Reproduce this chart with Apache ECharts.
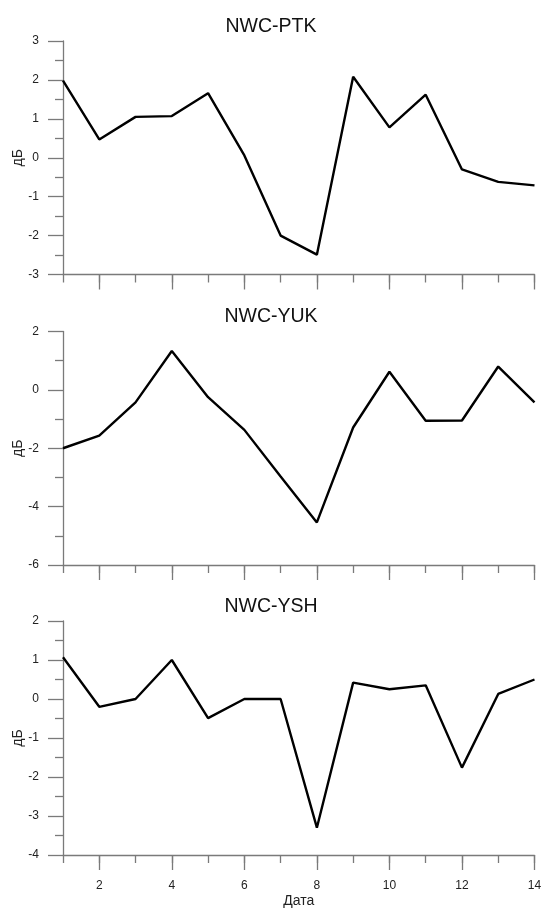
<!DOCTYPE html>
<html>
<head>
<meta charset="utf-8">
<script src="https://cdn.jsdelivr.net/npm/echarts@6/dist/echarts.min.js"></script>
<style>
html,body{margin:0;padding:0;background:#fff;}
#chart{width:542px;height:909px;}
</style>
</head>
<body>
<div id="chart"></div>
<script>
// ---- data ----
var titles = ['NWC-PTK', 'NWC-YUK', 'NWC-YSH'];
var dates = [1, 2, 3, 4, 5, 6, 7, 8, 9, 10, 11, 12, 13, 14];
var ptk = [1.98, 0.47, 1.05, 1.07, 1.66, 0.06, -2.0, -2.49, 2.08, 0.78, 1.62, -0.30, -0.62, -0.71];
var yuk = [-2.0, -1.57, -0.43, 1.33, -0.25, -1.37, -2.97, -4.54, -1.29, 0.62, -1.06, -1.05, 0.80, -0.43];
var ysh = [1.07, -0.20, 0.0, 1.0, -0.49, 0.0, 0.0, -3.30, 0.42, 0.25, 0.35, -1.76, 0.13, 0.50];
var xMajorTicks = [2, 4, 6, 8, 10, 12, 14];
var xTickLabels = [2, 4, 6, 8, 10, 12, 14];
var yMin = [-3, -6, -4];
var yMax = [3, 2, 2];
var yStep = [1, 2, 1];
var yName = 'дБ';
var xName = 'Дата';

// ---- layout ----
var FONT = 'Liberation Sans, Arial, sans-serif';
var AXIS = '#7a7a7a';
var TEXT = '#222';
var gridTops = [41, 331.5, 621];
var gridHeights = [233.5, 233.5, 234];
var seriesData = [ptk, yuk, ysh];

var option = {
  animation: false,
  backgroundColor: '#fff',
  title: [], grid: [], xAxis: [], yAxis: [], series: []
};

for (var i = 0; i < 3; i++) {
  option.title.push({
    text: titles[i], left: 'center', top: gridTops[i] - 29.5,
    textStyle: {fontFamily: FONT, fontSize: 19.5, fontWeight: 'normal', color: '#111'}
  });
  option.grid.push({left: 63, width: 471.5, top: gridTops[i], height: gridHeights[i],
    containLabel: false, outerBoundsMode: 'none'});
  var last = (i === 2);
  // minor (all integer) ticks + axis line
  option.xAxis.push({
    type: 'value', gridIndex: i, position: 'bottom', min: 1, max: 14, interval: 1,
    axisLine: {show: true, onZero: false, lineStyle: {color: AXIS, width: 1.3}},
    axisTick: {show: true, length: 8, lineStyle: {color: AXIS, width: 1.3}},
    axisLabel: {show: false},
    splitLine: {show: false},
    name: last ? xName : '', nameLocation: 'middle', nameGap: 39, nameMoveOverlap: false,
    nameTextStyle: {fontFamily: FONT, fontSize: 14, color: TEXT}
  });
  // major (even) ticks + labels
  option.xAxis.push({
    type: 'value', gridIndex: i, position: 'bottom', offset: 0, min: 1, max: 14, interval: 1,
    axisLine: {show: false, onZero: false},
    axisTick: {show: true, length: 15, customValues: xMajorTicks, lineStyle: {color: AXIS, width: 1.3}},
    axisLabel: {show: last, customValues: xTickLabels, margin: 25,
      fontFamily: FONT, fontSize: 12, color: TEXT},
    splitLine: {show: false}
  });
  option.yAxis.push({
    type: 'value', gridIndex: i, min: yMin[i], max: yMax[i], interval: yStep[i],
    axisLine: {show: true, onZero: false, lineStyle: {color: AXIS, width: 1.3}},
    axisTick: {show: true, length: 15, lineStyle: {color: AXIS, width: 1.3}},
    minorTick: {show: true, splitNumber: 2, length: 8, lineStyle: {color: AXIS, width: 1.3}},
    axisLabel: {margin: 24, fontFamily: FONT, fontSize: 12, color: TEXT},
    splitLine: {show: false},
    name: yName, nameLocation: 'middle', nameGap: 38, nameMoveOverlap: false,
    nameTextStyle: {fontFamily: FONT, fontSize: 14, color: TEXT}
  });
  option.series.push({
    type: 'line', xAxisIndex: 2 * i, yAxisIndex: i,
    data: dates.map(function (d, k) { return [d, seriesData[i][k]]; }),
    symbol: 'none',
    lineStyle: {color: '#000', width: 2.4},
    silent: true
  });
}

var chart = echarts.init(document.getElementById('chart'), null, {renderer: 'canvas'});
chart.setOption(option);
</script>
</body>
</html>
